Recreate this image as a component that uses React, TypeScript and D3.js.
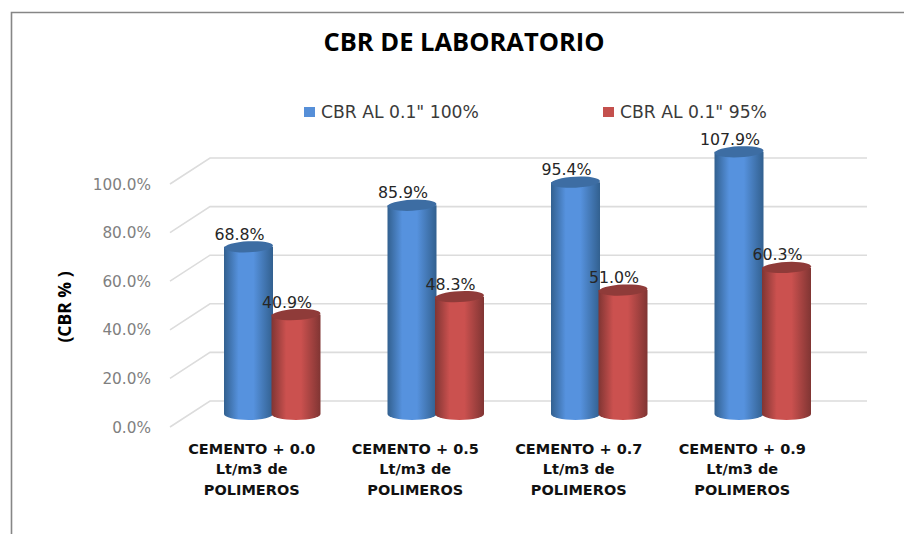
import React, { useEffect, useRef } from 'react'
import * as d3 from 'd3'

const categories = ['CEMENTO + 0.0', 'CEMENTO + 0.5', 'CEMENTO + 0.7', 'CEMENTO + 0.9']
const categoryLines = ['Lt/m3 de', 'POLIMEROS']
const seriesNames = ['CBR AL 0.1" 100%', 'CBR AL 0.1" 95%']
const cbr100 = [68.8, 85.9, 95.4, 107.9]
const cbr95 = [40.9, 48.3, 51.0, 60.3]
const yTicks = [0, 20, 40, 60, 80, 100]

const W = 904, H = 534
const depthX = 40, depthY = -26
const FONT = '"Open Sans", sans-serif'
const NUM_FONT = '"DejaVu Sans", sans-serif'

function addGradient(defs: any, id: string, edge: string, mid: string) {
  const g = defs.append('linearGradient').attr('id', id)
  g.append('stop').attr('offset', '0%').attr('stop-color', edge)
  g.append('stop').attr('offset', '30%').attr('stop-color', mid)
  g.append('stop').attr('offset', '60%').attr('stop-color', mid)
  g.append('stop').attr('offset', '100%').attr('stop-color', edge)
}

export default function App() {
  const ref = useRef<SVGSVGElement>(null)
  useEffect(() => {
    const svg = d3.select(ref.current)
    svg.selectAll('*').remove()
    const defs = svg.append('defs')
    addGradient(defs, 'blueBar', '#32608f', '#5692de')
    addGradient(defs, 'redBar', '#803533', '#cb514f')

    // front plane
    const x = d3.scaleBand().domain(categories).range([170, 824])
    const y = d3.scaleLinear().domain([0, 100]).range([427, 184])
    const inner = d3.scaleBand().domain(['a', 'b']).range([54, 149]).paddingInner(0)

    // frame
    svg.append('path').attr('d', `M11.5,${H} V12.5 H${W}`)
      .attr('fill', 'none').attr('stroke', '#868686').attr('stroke-width', 1.6)

    // grid
    svg.append('g').selectAll('path').data(yTicks).enter().append('path')
      .attr('d', d => `M170,${y(d)} L${170 + depthX},${y(d) + depthY} H867`)
      .attr('fill', 'none').attr('stroke', '#dcdcdc').attr('stroke-width', 1.6)

    // y ticks
    svg.append('g').selectAll('text').data(yTicks).enter().append('text')
      .attr('x', 151).attr('y', d => y(d) + 5.5)
      .attr('text-anchor', 'end').attr('fill', '#7f7f7f')
      .attr('font-family', NUM_FONT).attr('font-size', 15.3)
      .text(d => d.toFixed(1) + '%')

    svg.append('text')
      .attr('transform', 'translate(71,307) rotate(-90)')
      .attr('text-anchor', 'middle').attr('font-family', FONT)
      .attr('font-weight', 700).attr('font-size', 17.5).attr('fill', '#000')
      .text('(CBR % )')

    // cylinders
    const barW = 49, ry = 6
    const base = y(0) + depthY * 0.5
    const drawBar = (cat: string, v: number, key: string, grad: string, top: string) => {
      const x0 = x(cat)! + inner(key)!
      const x1 = x0 + barW
      const yTop = base - (y(0) - y(v))
      const g = svg.append('g')
      g.append('path')
        .attr('d', `M${x0},${yTop} V${base} A${barW / 2},${ry} 0 0 0 ${x1},${base} V${yTop} Z`)
        .attr('fill', `url(#${grad})`)
      g.append('ellipse')
        .attr('cx', (x0 + x1) / 2).attr('cy', yTop)
        .attr('rx', barW / 2).attr('ry', ry - 0.5)
        .attr('transform', `rotate(-3 ${(x0 + x1) / 2} ${yTop})`)
        .attr('fill', top)
    }
    categories.forEach((c, i) => {
      drawBar(c, cbr100[i], 'a', 'blueBar', '#3d6da3')
      drawBar(c, cbr95[i], 'b', 'redBar', '#8f3b39')
    })

    // data labels
    const drawLabel = (cat: string, v: number, key: string) => {
      svg.append('text')
        .attr('x', x(cat)! + inner(key)! + barW / 2 - 9)
        .attr('y', base - (y(0) - y(v)) - 7)
        .attr('text-anchor', 'middle').attr('fill', '#262626')
        .attr('font-family', NUM_FONT).attr('font-size', 15.8)
        .text(v.toFixed(1) + '%')
    }
    categories.forEach((c, i) => {
      drawLabel(c, cbr100[i], 'a')
      drawLabel(c, cbr95[i], 'b')
    })

    // category labels
    const cat = svg.append('g').selectAll('g').data(categories).enter().append('g')
      .attr('transform', d => `translate(${x(d)! + x.bandwidth() / 2},0)`)
      .attr('text-anchor', 'middle').attr('font-family', NUM_FONT)
      .attr('font-weight', 700).attr('font-size', 14.5).attr('fill', '#111')
    cat.append('text').attr('y', 453.5).text(d => d)
    categoryLines.forEach((l, i) => {
      cat.append('text').attr('y', 474 + i * 20.5).text(l)
    })

    // title
    svg.append('text').attr('x', 464).attr('y', 51).attr('text-anchor', 'middle')
      .attr('font-family', FONT).attr('font-weight', 700).attr('font-size', 25.5).attr('fill', '#000')
      .text('CBR DE LABORATORIO')

    // legend
    const legendX = [304, 603]
    const colors = ['#568fd8', '#c4504d']
    seriesNames.forEach((n, i) => {
      svg.append('rect').attr('x', legendX[i]).attr('y', 107).attr('width', 11).attr('height', 10).attr('fill', colors[i])
      svg.append('text').attr('x', legendX[i] + 17).attr('y', 118)
        .attr('font-family', NUM_FONT).attr('font-size', 17.2).attr('fill', '#3a3a3a')
        .text(n)
    })
  }, [])
  return <svg ref={ref} width={W} height={H} viewBox={`0 0 ${W} ${H}`}
    style={{ position: 'absolute', left: 0, top: 0, background: '#fff' }} />
}
